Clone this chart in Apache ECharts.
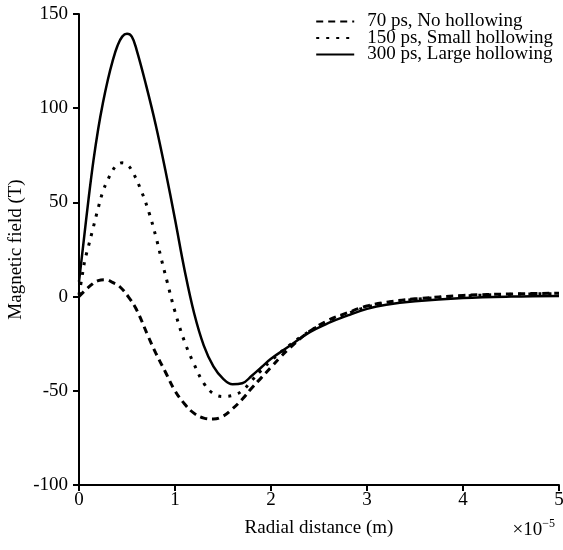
<!DOCTYPE html>
<html>
<head>
<meta charset="utf-8">
<script src="https://cdn.jsdelivr.net/npm/echarts@6/dist/echarts.min.js"></script>
<style>
  html, body { margin: 0; padding: 0; background: #fff; }
  #chart { width: 563px; height: 550px; }
</style>
</head>
<body>
<div id="chart"></div>
<script>
// radial distance in units of 1e-5 m, field in T
const names = ['70 ps, No hollowing', '150 ps, Small hollowing', '300 ps, Large hollowing']

const noHollowing = [
  [0, 0], [0.1, 5], [0.2, 8.5], [0.28, 9], [0.35, 7.5], [0.42, 5.5], [0.52, -0.5],
  [0.6, -7], [0.72, -21], [0.8, -30], [0.9, -40], [1.0, -50], [1.1, -57], [1.2, -62],
  [1.3, -64.5], [1.4, -65], [1.5, -63.5], [1.6, -59.5], [1.7, -54.5], [1.8, -48.5],
  [1.9, -43], [2.0, -37.5], [2.1, -32], [2.2, -27], [2.4, -18.5], [2.6, -12.5],
  [2.8, -8.5], [3.0, -5], [3.2, -3], [3.5, -1.2], [4.0, 0.6], [4.5, 1.4], [5.0, 1.8]
]

const smallHollowing = [
  [0, 1], [0.03, 10], [0.06, 19], [0.1, 27], [0.15, 37], [0.2, 47], [0.25, 56],
  [0.3, 62], [0.35, 67], [0.4, 70], [0.45, 71], [0.5, 70], [0.55, 67], [0.65, 56],
  [0.73, 44.5], [0.8, 32], [0.86, 19.5], [0.92, 7.5], [1.0, -8], [1.1, -24], [1.2, -36],
  [1.3, -46], [1.4, -51.5], [1.5, -53], [1.6, -52.5], [1.7, -50], [1.8, -44.5],
  [1.9, -39], [2.0, -34], [2.2, -25.5], [2.4, -18.5], [2.6, -13], [2.8, -9],
  [3.0, -5.5], [3.2, -3.3], [3.5, -1.5], [4.0, 0.3], [4.5, 1.2], [5.0, 1.6]
]

const largeHollowing = [
  [0, 8], [0.05, 30], [0.1, 52], [0.15, 72], [0.2, 89], [0.25, 103], [0.3, 115],
  [0.35, 125], [0.4, 133], [0.45, 138], [0.5, 139.5], [0.55, 138], [0.6, 131],
  [0.7, 112], [0.8, 91], [0.9, 67], [1.0, 41], [1.1, 14], [1.2, -9], [1.3, -26],
  [1.4, -37], [1.5, -43.5], [1.6, -46.5], [1.7, -46], [1.8, -42], [1.9, -37.5],
  [2.0, -33], [2.2, -26], [2.4, -19], [2.6, -14], [2.8, -10], [3.0, -6.5],
  [3.2, -4.3], [3.5, -2.5], [4.0, -0.8], [4.5, 0], [5.0, 0.3]
]

const font = 'Liberation Serif'

const chart = echarts.init(document.getElementById('chart'))
const option = {
  backgroundColor: '#fff',
  animation: false,
  textStyle: { fontFamily: font, color: '#000' },
  grid: { left: 79, right: 4, top: 14, bottom: 65, outerBoundsMode: 'none' },
  legend: {
    orient: 'vertical',
    right: 5,
    top: 7,
    itemGap: -2.5,
    itemWidth: 38,
    itemHeight: 12,
    itemStyle: { color: 'transparent', borderWidth: 0 },
    textStyle: { fontFamily: font, fontSize: 19, color: '#000', padding: [0, 0, 0, 8] },
    data: names
  },
  xAxis: {
    type: 'value',
    min: 0,
    max: 5,
    interval: 1,
    name: 'Radial distance (m)',
    nameLocation: 'middle',
    nameGap: 34,
    nameMoveOverlap: false,
    nameTextStyle: { fontFamily: font, fontSize: 19, color: '#000' },
    axisLine: { onZero: false, lineStyle: { color: '#000', width: 2 } },
    axisTick: { length: 6, lineStyle: { color: '#000', width: 2 } },
    axisLabel: { fontFamily: font, fontSize: 19, color: '#000', margin: 6 },
    splitLine: { show: false }
  },
  yAxis: {
    type: 'value',
    min: -100,
    max: 150,
    interval: 50,
    name: 'Magnetic field (T)',
    nameLocation: 'middle',
    nameGap: 53,
    nameMoveOverlap: false,
    nameTextStyle: { fontFamily: font, fontSize: 19, color: '#000' },
    axisLine: { show: true, lineStyle: { color: '#000', width: 2 } },
    axisTick: { show: true, length: 6, lineStyle: { color: '#000', width: 2 } },
    axisLabel: { fontFamily: font, fontSize: 19, color: '#000', margin: 11 },
    splitLine: { show: false }
  },
  graphic: [
    {
      type: 'text',
      right: 8,
      top: 518,
      style: {
        text: '×10{sup|−5}',
        font: '19px "Liberation Serif"',
        fill: '#000',
        rich: {
          sup: { fontSize: 12, fontFamily: font, verticalAlign: 'top', padding: [0, 0, 12, 0] }
        }
      }
    }
  ],
  series: [
    {
      name: names[0],
      type: 'line',
      smooth: 0.4,
      showSymbol: false,
      symbol: 'none',
      lineStyle: { color: '#000', width: 3, type: [7, 5], cap: 'butt' },
      itemStyle: { color: '#000' },
      data: noHollowing
    },
    {
      name: names[1],
      type: 'line',
      smooth: 0.4,
      showSymbol: false,
      symbol: 'none',
      lineStyle: { color: '#000', width: 3, type: [3, 7], cap: 'butt' },
      itemStyle: { color: '#000' },
      data: smallHollowing
    },
    {
      name: names[2],
      type: 'line',
      smooth: 0.4,
      showSymbol: false,
      symbol: 'none',
      lineStyle: { color: '#000', width: 2.5 },
      itemStyle: { color: '#000' },
      data: largeHollowing
    }
  ]
}
chart.setOption(option)
</script>
</body>
</html>
